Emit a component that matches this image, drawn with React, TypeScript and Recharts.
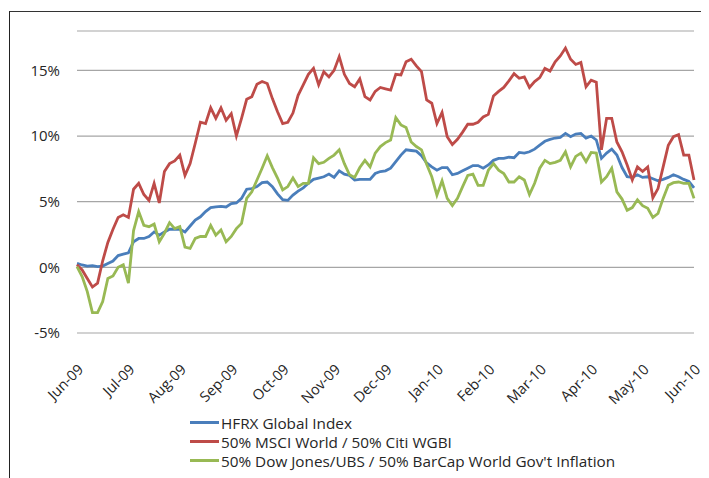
import React from 'react';
import { LineChart, Line, XAxis, YAxis, CartesianGrid } from 'recharts';

const monthLabels = ['Jun-09', 'Jul-09', 'Aug-09', 'Sep-09', 'Oct-09', 'Nov-09', 'Dec-09', 'Jan-10', 'Feb-10', 'Mar-10', 'Apr-10', 'May-10', 'Jun-10'];

const seriesNames = ['HFRX Global Index', '50% MSCI World / 50% Citi WGBI', "50% Dow Jones/UBS / 50% BarCap World Gov't Inflation"];
const seriesColors = ['#4A7EBB', '#BE4B48', '#98B954'];

const hfrx = [
  0.3, 0.18, 0.1, 0.13, 0.05, 0.1, 0.3, 0.48, 0.9, 1.0,
  1.1, 1.95, 2.2, 2.2, 2.35, 2.7, 2.45, 2.7, 2.9, 2.9,
  2.9, 2.7, 3.15, 3.6, 3.85, 4.25, 4.55, 4.6, 4.65, 4.6,
  4.85, 4.9, 5.25, 5.95, 6.0, 6.15, 6.45, 6.5, 6.15, 5.6,
  5.15, 5.1, 5.5, 5.8, 6.05, 6.4, 6.7, 6.8, 6.9, 7.1,
  6.85, 7.35, 7.1, 7.0, 6.65, 6.7, 6.7, 6.7, 7.15, 7.3,
  7.35, 7.55, 8.05, 8.55, 8.95, 8.9, 8.85, 8.5, 7.95, 7.65,
  7.4, 7.6, 7.6, 7.05, 7.15, 7.35, 7.55, 7.75, 7.75, 7.55,
  7.8, 8.15, 8.3, 8.3, 8.4, 8.35, 8.75, 8.7, 8.8, 9.0,
  9.3, 9.6, 9.75, 9.85, 9.9, 10.2, 9.95, 10.15, 10.2, 9.85,
  10.0, 9.7, 8.3, 8.7, 9.0, 8.55, 7.6, 6.9, 6.85, 7.05,
  6.85, 6.9, 6.75, 6.6, 6.7, 6.85, 7.05, 6.9, 6.7, 6.55,
  6.05,
];

const msciCiti = [
  0.2, -0.2, -0.85, -1.5, -1.2, 0.5, 1.9, 2.9, 3.8, 4.0,
  3.8, 5.95, 6.4, 5.55, 5.1, 6.4, 4.9, 7.3, 7.9, 8.1,
  8.55, 7.0, 7.9, 9.45, 11.05, 10.95, 12.15, 11.35, 12.15, 11.2,
  11.7, 10.0, 11.35, 12.8, 13.0, 13.95, 14.15, 14.0, 12.85, 11.85,
  10.95, 11.05, 11.75, 13.1, 13.9, 14.7, 15.15, 13.9, 14.9, 14.5,
  15.0, 16.05, 14.7, 14.0, 13.75, 14.35, 13.0, 12.75, 13.4, 13.7,
  13.6, 13.5, 14.7, 14.65, 15.65, 15.85, 15.35, 14.9, 12.75, 12.5,
  10.95, 11.8, 9.95, 9.35, 9.75, 10.3, 10.9, 10.9, 11.05, 11.45,
  11.65, 13.05, 13.4, 13.7, 14.2, 14.75, 14.4, 14.5, 13.7, 14.15,
  14.45, 15.15, 14.95, 15.65, 16.1, 16.7, 15.85, 15.45, 15.6, 13.75,
  14.25, 14.1, 8.95, 11.35, 11.35, 9.55, 8.8, 7.8, 6.65, 7.65,
  7.3, 7.65, 5.3, 6.0, 7.65, 9.3, 9.95, 10.1, 8.55, 8.55,
  6.65,
];

const dowUbs = [
  0.05, -0.7, -1.85, -3.45, -3.45, -2.6, -0.85, -0.65, 0.0, 0.2,
  -1.2, 2.8, 4.25, 3.2, 3.1, 3.3, 1.95, 2.6, 3.4, 2.95,
  3.1, 1.55, 1.45, 2.2, 2.35, 2.35, 3.2, 2.45, 2.85, 1.95,
  2.35, 2.95, 3.35, 5.25, 5.75, 6.65, 7.55, 8.5, 7.6, 6.8,
  5.9, 6.15, 6.8, 6.15, 6.4, 6.4, 8.35, 7.9, 8.0, 8.3,
  8.55, 8.95, 7.9, 7.05, 6.85, 7.6, 8.15, 7.65, 8.7, 9.2,
  9.5, 9.7, 11.4, 10.85, 10.65, 9.55, 9.2, 8.95, 7.85, 6.9,
  5.5, 6.6, 5.25, 4.7, 5.25, 6.15, 7.0, 7.1, 6.25, 6.25,
  7.4, 7.9, 7.4, 7.15, 6.5, 6.5, 6.9, 6.65, 5.55, 6.4,
  7.55, 8.15, 7.9, 8.0, 8.15, 8.8, 7.65, 8.45, 8.7, 8.05,
  8.75, 8.7, 6.5, 6.9, 7.55, 5.75, 5.2, 4.35, 4.55, 5.15,
  4.7, 4.5, 3.8, 4.1, 5.25, 6.25, 6.45, 6.5, 6.4, 6.4,
  5.25,
];

const yTicks = [-5, 0, 5, 10, 15];
const pointsPerMonth = 10;

const data = hfrx.map((v, i) => ({ t: i, hfrx: v, msci: msciCiti[i], dj: dowUbs[i] }));
const xTicks = monthLabels.map((_, k) => k * pointsPerMonth);
const keys = ['hfrx', 'msci', 'dj'];

const FONT = '"Open Sans", "DejaVu Sans", sans-serif';

export default function App() {
  return (
    <div style={{ position: 'relative', width: 701, height: 470, overflow: 'hidden', fontFamily: FONT }}>
      <div
        style={{
          position: 'absolute',
          left: 1,
          top: 3,
          width: 698,
          height: 480,
          boxSizing: 'border-box',
          borderLeft: '1.5px solid #222',
          borderTop: '1px solid #333',
          borderRight: '3px solid #7f7f7f',
        }}
      />
      <LineChart width={701} height={470} data={data} margin={{ top: 23, right: 15, bottom: 0, left: 9 }}>
        <CartesianGrid vertical={false} stroke="#a6a6a6" strokeWidth={1.2} />
        <XAxis
          type="number"
          dataKey="t"
          domain={[0, 120]}
          ticks={xTicks}
          interval={0}
          tickFormatter={(v: number) => monthLabels[Math.round(v / pointsPerMonth)]}
          angle={-45}
          textAnchor="end"
          axisLine={false}
          tickLine={false}
          tickSize={0}
          tickMargin={30}
          height={145}
          tick={{ fill: '#262626', fontSize: 14.5, fontFamily: FONT, dx: 0 }}
        />
        <YAxis
          type="number"
          domain={[-5, 18]}
          ticks={yTicks}
          allowDataOverflow
          tickFormatter={(v: number) => `${v}%`}
          axisLine={false}
          tickLine={false}
          tickSize={0}
          tickMargin={17}
          width={60}
          tick={{ fill: '#262626', fontSize: 15, fontFamily: FONT }}
        />
        {keys.map((k, i) => (
          <Line
            key={k}
            type="linear"
            dataKey={k}
            name={seriesNames[i]}
            stroke={seriesColors[i]}
            strokeWidth={2.8}
            dot={false}
            isAnimationActive={false}
          />
        ))}
      </LineChart>
      <div style={{ position: 'absolute', left: 182, top: 405, fontSize: 15.3, color: '#262626' }}>
        {seriesNames.map((n, i) => (
          <div key={n} style={{ display: 'flex', alignItems: 'center', height: 19 }}>
            <div style={{ width: 29, height: 3, background: seriesColors[i], marginRight: 2 }} />
            <span style={{ whiteSpace: 'nowrap' }}>{n}</span>
          </div>
        ))}
      </div>
    </div>
  );
}
